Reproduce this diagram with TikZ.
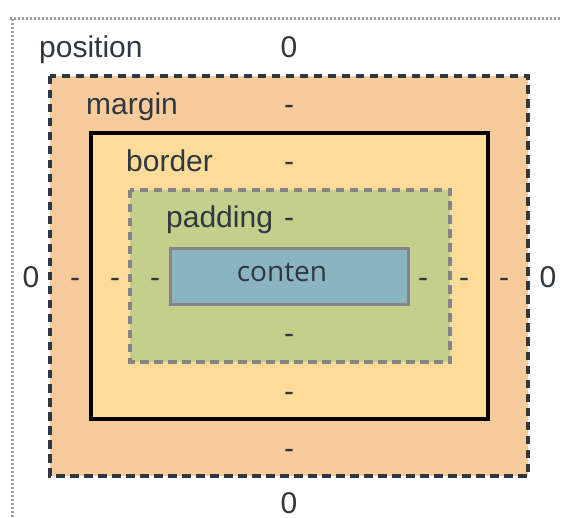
\documentclass[tikz,border=0pt]{standalone}
\usepackage{fontspec}
\setmainfont{Liberation Sans}
\newfontfamily\contentfont{Open Sans}
\definecolor{ink}{HTML}{2F3740}
\definecolor{marginfill}{HTML}{F8CB9C}
\definecolor{borderfill}{HTML}{FDDC99}
\definecolor{paddingfill}{HTML}{C4CF8B}
\definecolor{contentfill}{HTML}{8BB4C1}
\definecolor{framegray}{HTML}{A0A0A0}
\definecolor{padline}{HTML}{858585}
\tikzset{
  lbl/.style={font=\fontsize{30}{33}\selectfont, text=ink, inner sep=0pt},
  lblw/.style={lbl, anchor=base west},
  lblc/.style={lbl, anchor=base},
  dashedge/.style={line width=3.4pt, dash pattern=on 8.5pt off 5.5pt},
}
\begin{document}
\begin{tikzpicture}[x=1pt, y=-1pt]
  \useasboundingbox (0,0) rectangle (562,518);
  % outer dotted frame of the position box
  \draw[framegray, line width=3pt, dash pattern=on 2.2pt off 1.8pt] (10,19) -- (562,19);
  \draw[framegray, line width=3pt, dash pattern=on 2.2pt off 1.8pt] (12,19) -- (12,518);
  % margin
  \draw[fill=marginfill, draw=ink, dashedge] (50,76) rectangle (528,476);
  % border
  \draw[fill=borderfill, draw=black, line width=3.6pt] (91,133) rectangle (488,419);
  % padding
  \draw[fill=paddingfill, draw=padline, dashedge] (130,190) rectangle (450,362);
  % content
  \draw[fill=contentfill, draw=padline, line width=3pt] (170,249) rectangle (408,305);

  % labels
  \node[lblw] (lpos) at (39,58) {position};
  \node[lblw] (lmar) at (86,115) {margin};
  \node[lblw] (lbor) at (126,172) {border};
  \node[lblw] (lpad) at (166,228) {padding};
  \node[lbl, anchor=base, font=\contentfont\fontsize{28}{32}\selectfont] (lcon) at (282,282) {conten};

  % top values
  \node[lblc] (postop) at (289,58) {0};
  \node[lblc] (martop) at (289,115) {-};
  \node[lblc] (bortop) at (289,172) {-};
  \node[lblc] (padtop) at (289,228) {-};

  % left values
  \node[lblc] (posleft) at (31,288) {0};
  \node[lblc] (marleft) at (75,288) {-};
  \node[lblc] (borleft) at (115,288) {-};
  \node[lblc] (padleft) at (155,288) {-};

  % right values
  \node[lblc] (padright) at (423,288) {-};
  \node[lblc] (borright) at (464,288) {-};
  \node[lblc] (marright) at (504,288) {-};
  \node[lblc] (posright) at (548,288) {0};

  % bottom values
  \node[lblc] (padbot) at (289,344) {-};
  \node[lblc] (borbot) at (289,401) {-};
  \node[lblc] (marbot) at (289,458) {-};
  \node[lblc] (posbot) at (289,513) {0};
\end{tikzpicture}
\end{document}
